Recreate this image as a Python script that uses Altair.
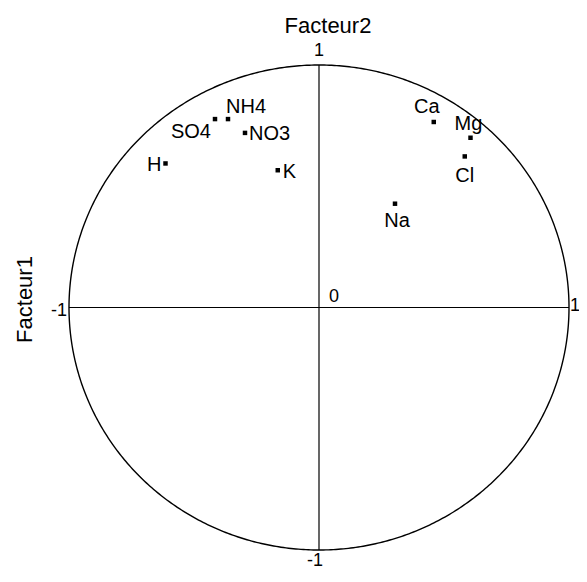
import altair as alt
import pandas as pd

# Correlation circle data
variables = ["SO4", "NH4", "NO3", "H", "K", "Ca", "Mg", "Cl", "Na"]
facteur1 = [-0.416, -0.364, -0.296, -0.614, -0.165, 0.459, 0.606, 0.583, 0.304]   # horizontal
facteur2 = [0.777, 0.777, 0.720, 0.594, 0.566, 0.765, 0.700, 0.623, 0.428]        # vertical

axis_ends = [-1, 1]
tick_labels_h = ["-1", "1"]
tick_labels_v = ["-1", "1"]
axis_titles = ["Facteur1", "Facteur2"]

FONT = "Liberation Sans"

pts = pd.DataFrame({"name": variables, "f1": facteur1, "f2": facteur2})

xs = alt.Scale(domain=[-1, 1], nice=False, zero=False)
ys = alt.Scale(domain=[-1, 1], nice=False, zero=False)

# Unit circle from a parameter sequence
circle = alt.Chart(alt.sequence(0, 6.30, 0.01, as_="t")).transform_calculate(
    cx="cos(datum.t)", cy="sin(datum.t)"
).mark_line(color="black", strokeWidth=1.4).encode(
    x=alt.X("cx:Q", scale=xs, axis=None),
    y=alt.Y("cy:Q", scale=ys, axis=None),
    order="t:Q",
)

ends = pd.DataFrame({"lo": [axis_ends[0]], "hi": [axis_ends[1]], "zero": [0]})
hline = alt.Chart(ends).mark_rule(color="black", strokeWidth=1.2).encode(
    x=alt.X("lo:Q", scale=xs, axis=None), x2="hi:Q", y=alt.Y("zero:Q", scale=ys, axis=None)
)
vline = alt.Chart(ends).mark_rule(color="black", strokeWidth=1.2).encode(
    y=alt.Y("lo:Q", scale=ys, axis=None), y2="hi:Q", x=alt.X("zero:Q", scale=xs, axis=None)
)

points = alt.Chart(pts).mark_square(color="black", size=20, opacity=1).encode(
    x=alt.X("f1:Q", scale=xs, axis=None),
    y=alt.Y("f2:Q", scale=ys, axis=None),
)

def lab(names, **kw):
    return alt.Chart(pts).transform_filter(
        alt.FieldOneOfPredicate(field="name", oneOf=names)
    ).mark_text(font=FONT, fontSize=20, color="black", **kw).encode(
        x=alt.X("f1:Q", scale=xs, axis=None),
        y=alt.Y("f2:Q", scale=ys, axis=None),
        text="name:N",
    )

labels = [
    lab(["SO4"], align="right", baseline="middle", dx=-4, dy=13),
    lab(["NH4"], align="left", baseline="middle", dx=-2, dy=-12),
    lab(["NO3"], align="left", baseline="middle", dx=4, dy=1),
    lab(["H"], align="right", baseline="middle", dx=-4, dy=2),
    lab(["K"], align="left", baseline="middle", dx=5, dy=2),
    lab(["Ca"], align="center", baseline="middle", dx=-7, dy=-15),
    lab(["Mg"], align="center", baseline="middle", dx=-2, dy=-14),
    lab(["Cl"], align="center", baseline="middle", dx=0, dy=20),
    lab(["Na"], align="center", baseline="middle", dx=2, dy=17),
]

hticks = pd.DataFrame({"v": axis_ends, "zero": [0, 0], "t": tick_labels_h})
vticks = pd.DataFrame({"v": axis_ends, "zero": [0, 0], "t": tick_labels_v})
origin = pd.DataFrame({"v": [0], "t": ["0"]})

htick_left = alt.Chart(hticks.iloc[[0]]).mark_text(
    font=FONT, fontSize=18, align="right", baseline="middle", dx=-2, dy=3
).encode(x=alt.X("v:Q", scale=xs, axis=None), y=alt.Y("zero:Q", scale=ys, axis=None), text="t:N")
htick_right = alt.Chart(hticks.iloc[[1]]).mark_text(
    font=FONT, fontSize=18, align="left", baseline="middle", dx=1, dy=-2
).encode(x=alt.X("v:Q", scale=xs, axis=None), y=alt.Y("zero:Q", scale=ys, axis=None), text="t:N")
vtick_top = alt.Chart(vticks.iloc[[1]]).mark_text(
    font=FONT, fontSize=18, align="center", baseline="bottom", dx=0, dy=-5
).encode(y=alt.Y("v:Q", scale=ys, axis=None), x=alt.X("zero:Q", scale=xs, axis=None), text="t:N")
vtick_bottom = alt.Chart(vticks.iloc[[0]]).mark_text(
    font=FONT, fontSize=18, align="center", baseline="top", dx=-4, dy=2
).encode(y=alt.Y("v:Q", scale=ys, axis=None), x=alt.X("zero:Q", scale=xs, axis=None), text="t:N")
zero_lab = alt.Chart(origin).mark_text(
    font=FONT, fontSize=18, align="left", baseline="bottom", dx=10, dy=-2
).encode(x=alt.X("v:Q", scale=xs, axis=None), y=alt.Y("v:Q", scale=ys, axis=None), text="t:N")

titles = pd.DataFrame({"t": axis_titles, "zero": [0, 0]})
facteur1_title = alt.Chart(titles.iloc[[0]]).mark_text(
    font=FONT, fontSize=22, angle=270, align="center", baseline="middle"
).encode(x=alt.value(-44), y=alt.Y("zero:Q", scale=ys, axis=None), yOffset=alt.value(-8), text="t:N")
facteur2_title = alt.Chart(titles.iloc[[1]]).mark_text(
    font=FONT, fontSize=22, align="center", baseline="alphabetic", dx=9
).encode(x=alt.X("zero:Q", scale=xs, axis=None), y=alt.value(-32), text="t:N")

chart = alt.layer(
    circle, hline, vline, points, *labels,
    htick_left, htick_right, vtick_top, vtick_bottom, zero_lab,
    facteur1_title, facteur2_title,
).properties(
    width=500,
    height=485,
    background="white",
    padding={"left": 61, "top": 57, "right": 10, "bottom": 20},
    autosize=alt.AutoSizeParams(type="none"),
).configure_view(strokeWidth=0)

chart.save("out.html", embed_options={"renderer": "svg", "actions": False})
